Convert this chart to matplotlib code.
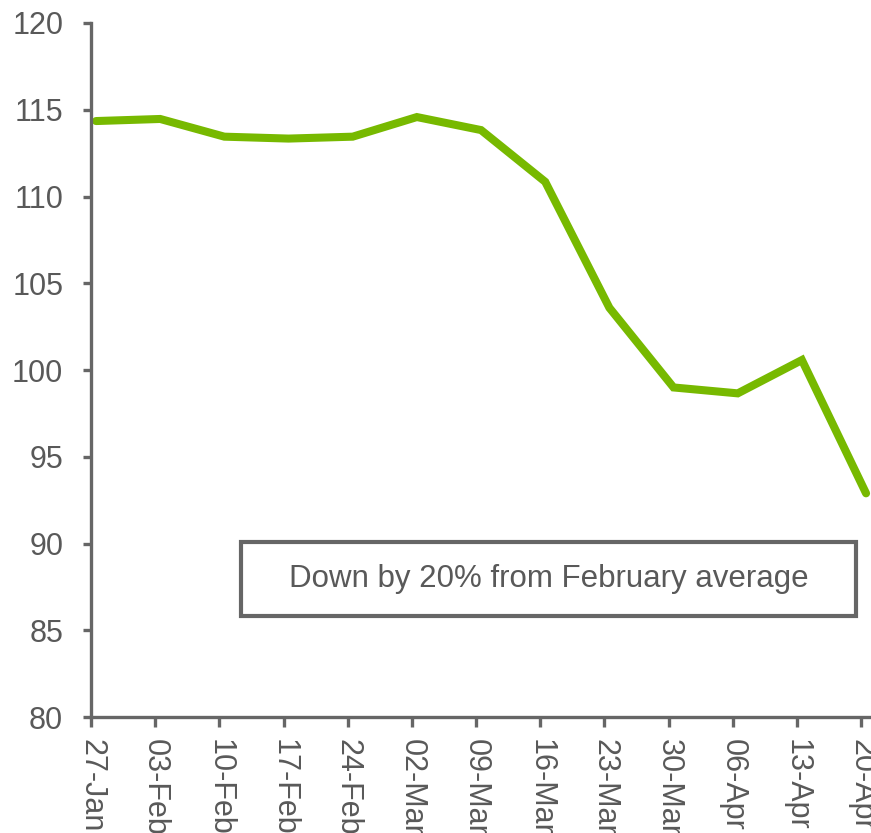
import numpy as np
import matplotlib
matplotlib.use("Agg")
import matplotlib.pyplot as plt
from matplotlib.patches import Rectangle

plt.rcParams['font.family'] = ['Liberation Sans', 'DejaVu Sans']

# weekly index values
semanas = ['27-Jan', '03-Feb', '10-Feb', '17-Feb', '24-Feb', '02-Mar', '09-Mar',
           '16-Mar', '23-Mar', '30-Mar', '06-Apr', '13-Apr', '20-Apr']
valores = [114.35, 114.47, 113.45, 113.34, 113.45, 114.58, 113.83,
           110.85, 103.59, 99.0, 98.66, 100.58, 92.9]
y_ticks = [80, 85, 90, 95, 100, 105, 110, 115, 120]
nota = 'Down by 20% from February average'

gris = '#666666'
texto = '#595959'
verde = '#77b900'

fig = plt.figure(figsize=(8.71, 8.33), dpi=100)
ax = fig.add_axes([0.1045, 0.139, 0.8955, 0.8334])

x = np.arange(len(valores))
ax.plot(x, valores, color=verde, lw=5.8, solid_capstyle='round',
        solid_joinstyle='miter', clip_on=False)

desfase = 0.078
ax.set_xticks(x - desfase)
ax.set_xticklabels(semanas, rotation=270, va='top', ha='center')
ax.set_xlim(-desfase, 12.077)
ax.set_ylim(80, 120)
ax.set_yticks(y_ticks)

for s in ['top', 'right']:
    ax.spines[s].set_visible(False)
for s in ['left', 'bottom']:
    ax.spines[s].set_color(gris)
    ax.spines[s].set_linewidth(2.4)

ax.tick_params(axis='y', colors=gris, labelcolor=texto, labelsize=22,
               length=6, width=2.4, pad=14)
ax.tick_params(axis='x', colors=gris, labelcolor=texto, labelsize=22,
               length=7, width=2.4, pad=9)

# cuadro de texto
ax.add_patch(Rectangle((0.192, 0.1455), 0.789, 0.1065, transform=ax.transAxes,
                       fill=False, edgecolor=gris, lw=3, clip_on=False))
ax.text(0.5865, 0.1985, nota, transform=ax.transAxes, ha='center', va='center',
        fontsize=22.5, color=texto)

fig.savefig('out.png', dpi=100)
